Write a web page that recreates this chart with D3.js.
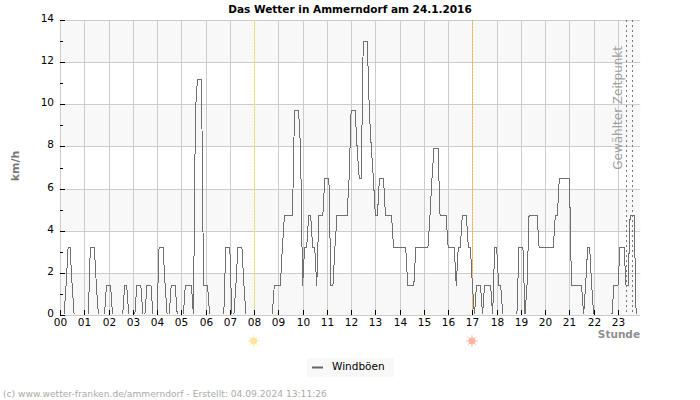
<!DOCTYPE html>
<html>
<head>
<meta charset="utf-8">
<script src="https://cdn.jsdelivr.net/npm/d3@7"></script>
<style>
    body { margin: 0; background: #fff; }
    svg { display: block; font-family: "DejaVu Sans", sans-serif; }
</style>
</head>
<body>
<div id="chart"></div>
<script>
// wind gusts in km/h, one value every 5 minutes, one row per hour
var windBoeen = [
    0, 0, 0, 1.4, 3.2, 3.2, 1.4, 0, 0, 0, 0, 0,
    0, 0, 0, 3.2, 3.2, 3.2, 1.4, 0, 0, 0, 0, 1.4,
    1.4, 1.4, 0, 0, 0, 0, 0, 0, 1.4, 1.4, 0, 0,
    0, 0, 1.4, 1.4, 1.4, 0, 0, 1.4, 1.4, 1.4, 0, 0,
    0, 3.2, 3.2, 3.2, 1.4, 0, 0, 1.4, 1.4, 1.4, 0, 0,
    0, 0, 1.4, 1.4, 1.4, 1.4, 0, 9.7, 11.2, 11.2, 11.2, 1.4,
    1.4, 1.4, 0, 0, 0, 0, 0, 0, 0, 0, 3.2, 3.2,
    3.2, 0, 0, 1.4, 3.2, 3.2, 3.2, 1.4, 0, 0, 0, 0,
    0, 0, 0, 0, 0, 0, 0, 0, 0, 0, 1.4, 1.4,
    1.4, 1.4, 3.2, 4.7, 4.7, 4.7, 4.7, 4.7, 9.7, 9.7, 9.7, 7.9,
    1.4, 3.2, 3.2, 4.7, 4.7, 3.2, 3.2, 1.4, 4.7, 4.7, 4.7, 6.5,
    6.5, 6.5, 1.4, 1.4, 3.2, 4.7, 4.7, 4.7, 4.7, 4.7, 4.7, 6.5,
    9.7, 9.7, 9.7, 7.9, 6.5, 6.5, 13, 13, 13, 9.7, 7.9, 6.5,
    4.7, 4.7, 6.5, 6.5, 6.5, 4.7, 4.7, 4.7, 4.7, 3.2, 3.2, 3.2,
    3.2, 3.2, 3.2, 3.2, 1.4, 1.4, 1.4, 1.4, 3.2, 3.2, 3.2, 3.2,
    3.2, 3.2, 3.2, 4.7, 6.5, 7.9, 7.9, 7.9, 4.7, 4.7, 4.7, 4.7,
    3.2, 3.2, 3.2, 3.2, 1.4, 3.2, 3.2, 4.7, 4.7, 4.7, 3.2, 3.2,
    1.4, 0, 1.4, 1.4, 1.4, 0, 1.4, 1.4, 1.4, 1.4, 0, 3.2,
    3.2, 1.4, 1.4, 0, 0, 0, 0, 0, 0, 0, 0, 3.2,
    3.2, 3.2, 0, 1.4, 4.7, 4.7, 4.7, 4.7, 4.7, 3.2, 3.2, 3.2,
    3.2, 3.2, 3.2, 3.2, 3.2, 4.7, 4.7, 6.5, 6.5, 6.5, 6.5, 6.5,
    6.5, 1.4, 1.4, 1.4, 1.4, 1.4, 1.4, 0, 1.4, 3.2, 3.2, 1.4,
    0, 0, 0, 0, 0, 0, 0, 0, 0, 0, 1.4, 1.4,
    1.4, 3.2, 3.2, 3.2, 1.4, 1.4, 4.7, 4.7, 4.7, 0, 0, 0
]
var hourTicks = d3.range(0, 24)
var kmhTicks = d3.range(0, 15, 2)
var kmhMinorTicks = d3.range(1, 15, 2)
var sunEvents = [
    { hour: 8, color: "#f3e95c", sun: "#fde79c" },
    { hour: 17, color: "#f4b551", sun: "#fdb5a0" }
]
var selectedHours = [23.33, 23.58]

var svg = d3.select("#chart").append("svg")
    .attr("width", 700)
    .attr("height", 400)

var x = d3.scaleLinear().domain([0, 24]).range([60, 642.24])
var y = d3.scaleLinear().domain([0, 14]).range([315, 20])
var plotRight = x(287 / 12)

// snap to the pixel grid, lines are one pixel wide
var snap = v => Math.round(v) + 0.5

// alternating bands, grey at the top
d3.range(0, 14, 2).forEach((v, i) => {
    if (i % 2 == 0) {
        svg.append("rect")
            .attr("x", x(0))
            .attr("y", Math.round(y(v + 2)))
            .attr("width", plotRight - x(0))
            .attr("height", Math.round(y(v)) - Math.round(y(v + 2)))
            .attr("fill", "#f8f8f8")
    }
})

// grid
svg.append("g").selectAll("line")
    .data(kmhTicks)
    .join("line")
    .attr("x1", x(0))
    .attr("x2", plotRight)
    .attr("y1", d => snap(y(d)))
    .attr("y2", d => snap(y(d)))
    .attr("stroke", "#ccc")

svg.append("g").selectAll("line")
    .data(hourTicks)
    .join("line")
    .attr("x1", d => snap(x(d)))
    .attr("x2", d => snap(x(d)))
    .attr("y1", y(14))
    .attr("y2", y(0))
    .attr("stroke", "#ccc")

// sunrise and sunset
svg.append("g").selectAll("line")
    .data(sunEvents)
    .join("line")
    .attr("x1", d => snap(x(d.hour)))
    .attr("x2", d => snap(x(d.hour)))
    .attr("y1", y(14))
    .attr("y2", y(0))
    .attr("stroke", d => d.color)
    .attr("stroke-dasharray", "2,1")

// selected time
svg.append("g").selectAll("line")
    .data(selectedHours)
    .join("line")
    .attr("x1", d => snap(x(d)))
    .attr("x2", d => snap(x(d)))
    .attr("y1", y(14))
    .attr("y2", y(0))
    .attr("stroke", "#777")
    .attr("stroke-dasharray", "2,3")

svg.append("text")
    .attr("transform", `translate(622,46) rotate(-90)`)
    .attr("text-anchor", "end")
    .attr("font-size", 12)
    .attr("fill", "#a0a0a0")
    .text("Gewählter Zeitpunkt")

// data line, clipped so the zero level stays hidden
svg.append("clipPath").attr("id", "plot-clip")
    .append("rect")
    .attr("x", x(0))
    .attr("y", y(14))
    .attr("width", plotRight - x(0) + 1)
    .attr("height", y(0) - y(14) - 1)

var line = d3.line()
    .x((d, i) => x(i / 12))
    .y(d => y(d))

svg.append("path")
    .datum(windBoeen)
    .attr("clip-path", "url(#plot-clip)")
    .attr("d", line)
    .attr("fill", "none")
    .attr("stroke", "#707070")
    .attr("stroke-width", 1)
    .attr("shape-rendering", "crispEdges")

// axes, ticks point into the plot
var xAxis = d3.axisBottom(x)
    .tickValues(hourTicks)
    .tickFormat(d3.format("02d"))
    .tickSize(-5)
    .tickPadding(4)
    .offset(0)

var xG = svg.append("g")
    .attr("transform", `translate(0,${y(0)})`)
    .call(xAxis)
xG.select(".domain").remove()
xG.selectAll(".tick").attr("transform", d => `translate(${snap(x(d))},0)`)
xG.selectAll("text").attr("font-size", 10.5).attr("fill", "#000").attr("font-family", "DejaVu Sans")
xG.selectAll("line").attr("stroke", "#000").attr("shape-rendering", "crispEdges")

var yAxis = d3.axisLeft(y)
    .tickValues(kmhTicks)
    .tickSize(-5)
    .tickPadding(6)
    .offset(0)

var yG = svg.append("g")
    .attr("transform", `translate(${x(0)},0)`)
    .call(yAxis)
yG.select(".domain").remove()
yG.selectAll(".tick").attr("transform", d => `translate(0,${snap(y(d))})`)
yG.selectAll("text").attr("font-size", 10.5).attr("fill", "#000").attr("font-family", "DejaVu Sans").attr("dy", "0.18em")
yG.selectAll("line").attr("stroke", "#000").attr("shape-rendering", "crispEdges")

svg.append("g").selectAll("line")
    .data(kmhMinorTicks)
    .join("line")
    .attr("x1", x(0))
    .attr("x2", x(0) + 3)
    .attr("y1", d => snap(y(d)))
    .attr("y2", d => snap(y(d)))
    .attr("stroke", "#000")
    .attr("shape-rendering", "crispEdges")

// sun symbols below the axis
sunEvents.forEach(d => {
    var g = svg.append("g").attr("transform", `translate(${x(d.hour) - 0.5},341)`)
    g.selectAll("line")
        .data(d3.range(0, 360, 45))
        .join("line")
        .attr("x1", 0)
        .attr("y1", 0)
        .attr("x2", a => 6 * Math.cos(a * Math.PI / 180))
        .attr("y2", a => 6 * Math.sin(a * Math.PI / 180))
        .attr("stroke", d.sun)
        .attr("stroke-opacity", 0.85)
    g.append("circle").attr("r", 3.5).attr("fill", d.sun)
})

// texts
svg.append("text")
    .attr("x", 350)
    .attr("y", 13)
    .attr("text-anchor", "middle")
    .attr("font-size", 10.5)
    .attr("font-weight", "bold")
    .attr("fill", "#000")
    .text("Das Wetter in Ammerndorf am 24.1.2016")

svg.append("text")
    .attr("transform", "translate(19,166) rotate(-90)")
    .attr("text-anchor", "middle")
    .attr("font-size", 11)
    .attr("font-weight", "bold")
    .attr("fill", "#777")
    .text("km/h")

svg.append("text")
    .attr("x", 640)
    .attr("y", 338)
    .attr("text-anchor", "end")
    .attr("font-size", 10.5)
    .attr("font-weight", "bold")
    .attr("fill", "#909090")
    .text("Stunde")

// legend
svg.append("rect")
    .attr("x", 307)
    .attr("y", 358)
    .attr("width", 87)
    .attr("height", 19)
    .attr("fill", "#f8f8f8")

svg.append("line")
    .attr("x1", 312)
    .attr("x2", 323)
    .attr("y1", 367.5)
    .attr("y2", 367.5)
    .attr("stroke", "#666")
    .attr("stroke-width", 2)

svg.append("text")
    .attr("x", 332)
    .attr("y", 370)
    .attr("font-size", 10.5)
    .attr("fill", "#000")
    .text("Windböen")

svg.append("text")
    .attr("x", 3)
    .attr("y", 397)
    .attr("font-size", 9.15)
    .attr("fill", "#aaa")
    .text("(c) www.wetter-franken.de/ammerndorf - Erstellt: 04.09.2024 13:11:26")
</script>
</body>
</html>
